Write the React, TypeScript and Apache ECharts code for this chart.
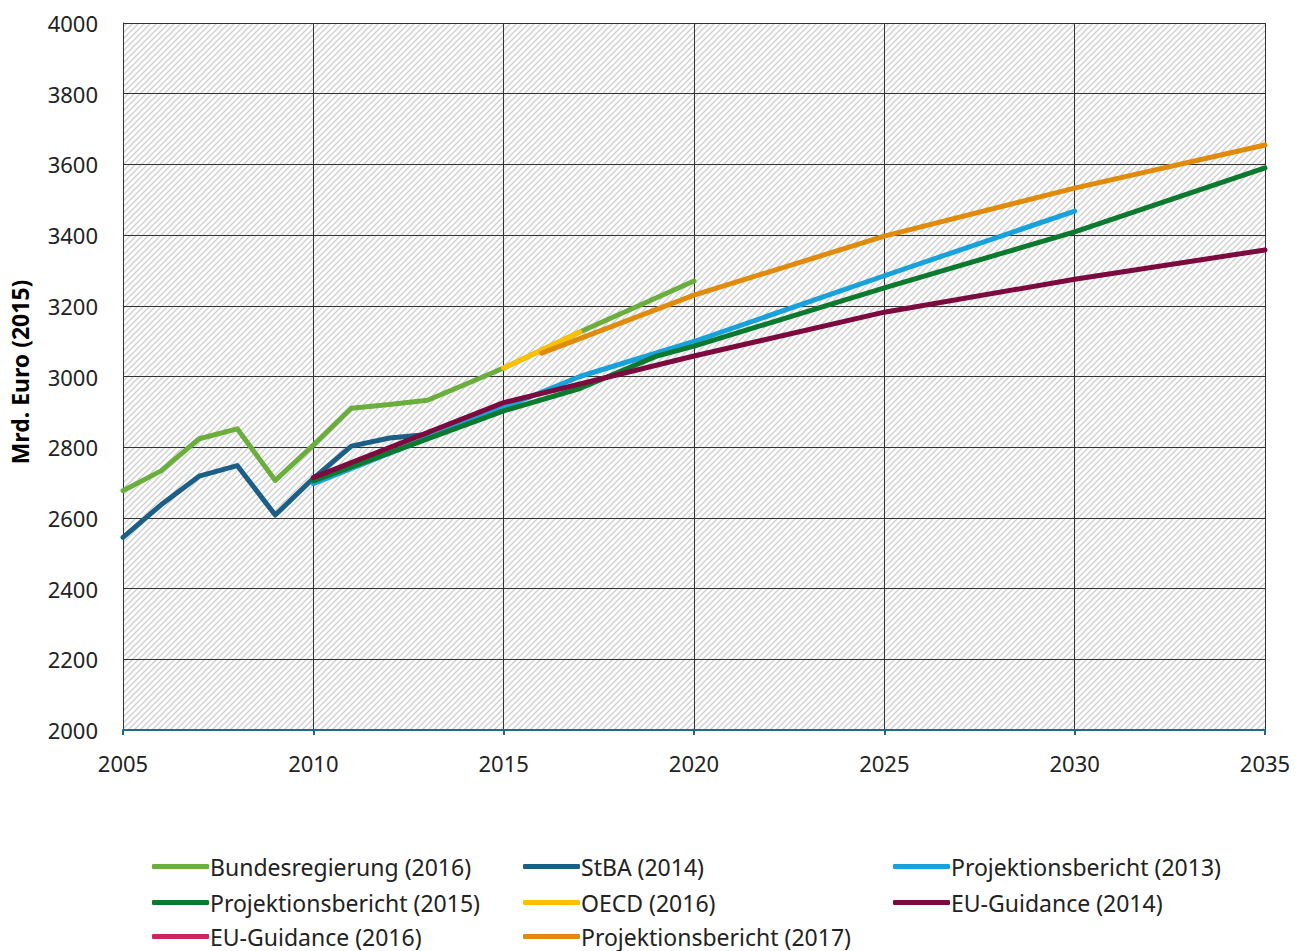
import React, { useEffect, useRef } from "react";
import * as echarts from "echarts";

const seriesNames = [
  "Bundesregierung (2016)",
  "StBA (2014)",
  "Projektionsbericht (2013)",
  "Projektionsbericht (2015)",
  "OECD (2016)",
  "EU-Guidance (2014)",
  "EU-Guidance (2016)",
  "Projektionsbericht (2017)",
];
const seriesColors = ["#6aaf3d", "#1b5e86", "#17a2dc", "#0c7a2e", "#ffc000", "#7d0a3e", "#d02360", "#e08b0c"];

const bundesYears = [2005, 2006, 2007, 2008, 2009, 2010, 2011, 2012, 2013, 2014, 2015, 2016, 2017, 2018, 2019, 2020];
const bundesValues = [2677, 2733, 2824, 2852, 2706, 2806, 2910, 2921, 2933, 2978, 3024, 3075, 3126, 3174, 3222, 3270];

const stbaYears = [2005, 2006, 2007, 2008, 2009, 2010, 2011, 2012, 2013];
const stbaValues = [2545, 2637, 2718, 2748, 2608, 2712, 2803, 2826, 2836];

const pb2013Years = [2010, 2015, 2017, 2020, 2025, 2030];
const pb2013Values = [2697, 2912, 3000, 3099, 3285, 3468];

const pb2015Years = [2010, 2015, 2017, 2019, 2020, 2025, 2030, 2035];
const pb2015Values = [2705, 2903, 2966, 3057, 3086, 3251, 3409, 3590];

const oecdYears = [2015, 2016, 2017];
const oecdValues = [3024, 3075, 3126];

const eu2014Years = [2010, 2015, 2020, 2025, 2030, 2035];
const eu2014Values = [2714, 2926, 3058, 3182, 3275, 3358];

const eu2016Years: number[] = [];
const eu2016Values: number[] = [];

const pb2017Years = [2016, 2020, 2025, 2030, 2035];
const pb2017Values = [3066, 3230, 3397, 3533, 3655];

const xTicks = { min: 2005, max: 2035, interval: 5 };
const yTicks = { min: 2000, max: 4000, interval: 200 };

const allYears = [bundesYears, stbaYears, pb2013Years, pb2015Years, oecdYears, eu2014Years, eu2016Years, pb2017Years];
const allValues = [bundesValues, stbaValues, pb2013Values, pb2015Values, oecdValues, eu2014Values, eu2016Values, pb2017Values];

// legend grid: 3 columns x 3 rows, filled row by row
const legendCols = [152, 523, 893];
const legendRows = [866, 902, 936];

function makeHatch(): HTMLCanvasElement {
  const c = document.createElement("canvas");
  const s = 6;
  c.width = s;
  c.height = s;
  const ctx = c.getContext("2d")!;
  ctx.fillStyle = "#ffffff";
  ctx.fillRect(0, 0, s, s);
  ctx.strokeStyle = "#cdcdcd";
  ctx.lineWidth = 1.3;
  ctx.beginPath();
  ctx.moveTo(-1, s + 1);
  ctx.lineTo(s + 1, -1);
  ctx.moveTo(-1, 1);
  ctx.lineTo(1, -1);
  ctx.moveTo(s - 1, s + 1);
  ctx.lineTo(s + 1, s - 1);
  ctx.stroke();
  return c;
}

export default function App() {
  const ref = useRef<HTMLDivElement>(null);
  useEffect(() => {
    if (!ref.current) return;
    const chart = echarts.init(ref.current, undefined, { renderer: "svg" });
    const font = "'Noto Sans', sans-serif";
    const series = seriesNames.map((name, i) => ({
      name,
      type: "line",
      data: allYears[i].map((y, j) => [y, allValues[i][j]]),
      showSymbol: false,
      symbol: "none",
      lineStyle: { color: seriesColors[i], width: 5, cap: "round", join: "round" },
      itemStyle: { color: seriesColors[i] },
      z: 3 + i,
    }));
    const legends = seriesNames.map((name, i) => ({
      data: [name],
      orient: "horizontal",
      left: legendCols[i % 3],
      top: legendRows[Math.floor(i / 3)] - 11,
      padding: 0,
      itemWidth: 57,
      itemHeight: 5,
      icon: "roundRect",
      textStyle: { fontSize: 23, fontFamily: font, color: "#222", lineHeight: 22, padding: [0, 0, 0, -4] },
      selectedMode: false,
    }));
    chart.setOption({
      animation: false,
      backgroundColor: "#ffffff",
      grid: {
        left: 123,
        top: 23,
        right: 41,
        bottom: 221,
        show: true,
        backgroundColor: { image: makeHatch(), repeat: "repeat" },
        borderWidth: 0,
      },
      xAxis: {
        type: "value",
        min: xTicks.min,
        max: xTicks.max,
        interval: xTicks.interval,
        axisLine: { show: true, lineStyle: { color: "#1f6a8f", width: 2 } },
        axisTick: { show: true, length: 5, lineStyle: { color: "#1f6a8f", width: 2 } },
        axisLabel: { color: "#222", fontSize: 22, fontFamily: font, margin: 22, formatter: (v: number) => String(v) },
        splitLine: { show: true, lineStyle: { color: "#333", width: 1 } },
      },
      yAxis: {
        type: "value",
        min: yTicks.min,
        max: yTicks.max,
        interval: yTicks.interval,
        axisLine: { show: true, lineStyle: { color: "#333", width: 1 } },
        axisTick: { show: false },
        axisLabel: { color: "#222", fontSize: 22, fontFamily: font, margin: 25, formatter: (v: number) => String(v) },
        splitLine: { show: true, lineStyle: { color: "#333", width: 1 } },
      },
      legend: legends,
      graphic: [
        {
          type: "text",
          x: 20,
          y: 372,
          rotation: Math.PI / 2,
          style: {
            text: "Mrd. Euro (2015)",
            fontSize: 23,
            fontWeight: "bold",
            fontFamily: font,
            fill: "#000",
            align: "center",
            verticalAlign: "middle",
          },
        },
      ],
      series,
    });
    return () => chart.dispose();
  }, []);
  return <div ref={ref} style={{ position: "fixed", left: 0, top: 0, width: 1306, height: 951 }} />;
}
